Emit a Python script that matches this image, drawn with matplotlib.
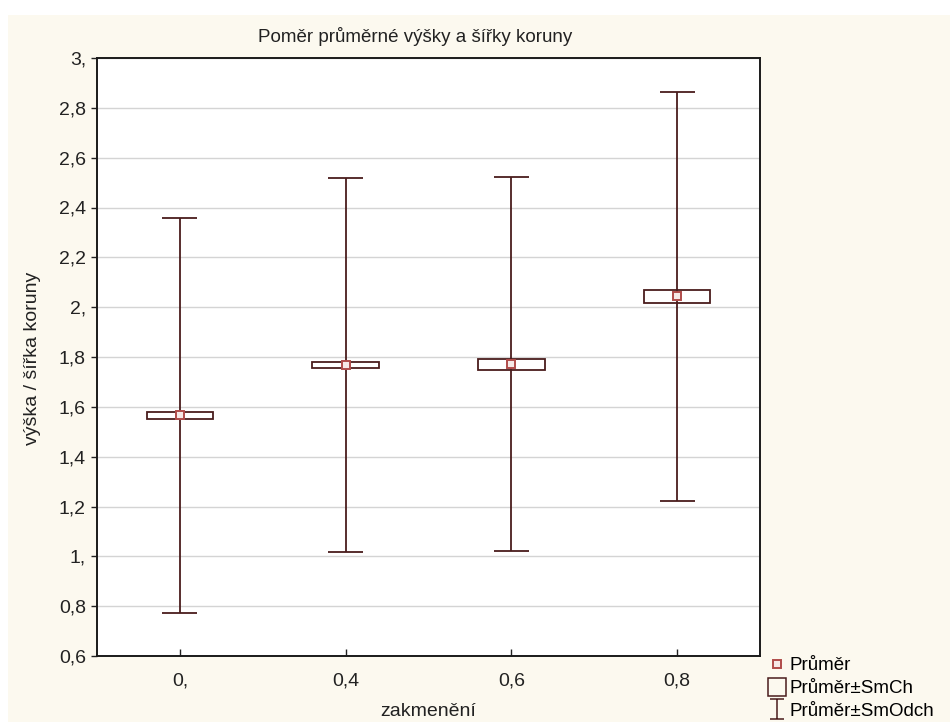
import matplotlib
matplotlib.use("Agg")
import matplotlib.pyplot as plt
from matplotlib.patches import Rectangle
from matplotlib.lines import Line2D
from matplotlib.path import Path

plt.rcParams.update({
    "font.family": ["Liberation Sans", "DejaVu Sans"],
    "font.size": 14,
})

# zakmenění categories with mean, standard error and standard deviation
categories = ["0,", "0,4", "0,6", "0,8"]
means = [1.566, 1.768, 1.771, 2.043]
std_err = [0.014, 0.013, 0.022, 0.026]
std_dev = [0.793, 0.750, 0.750, 0.820]

ytick_values = [0.6, 0.8, 1.0, 1.2, 1.4, 1.6, 1.8, 2.0, 2.2, 2.4, 2.6, 2.8, 3.0]
ytick_labels = ["0,6", "0,8", "1,", "1,2", "1,4", "1,6", "1,8", "2,", "2,2",
                "2,4", "2,6", "2,8", "3,"]

DARK = "#4a1c1c"
MEAN_EDGE = "#b04c4a"
MEAN_FACE = "#f6e9e7"
CREAM = "#fcf9ef"
TEXT = "#222222"

fig = plt.figure(figsize=(9.5, 7.22), dpi=100, facecolor="white")
fig.patches.append(Rectangle((8 / 950, 0), 1, 1 - 15 / 722, transform=fig.transFigure,
                             facecolor=CREAM, edgecolor="none", zorder=-10))

ax = fig.add_axes([97 / 950, 66 / 722, 663 / 950, 598 / 722])
ax.set_facecolor("white")

box_w = 0.40
cap_w = 0.21
for i, (m, se, sd) in enumerate(zip(means, std_err, std_dev)):
    ax.vlines(i, m - sd, m + sd, color=DARK, lw=1.3, zorder=3)
    ax.hlines([m - sd, m + sd], i - cap_w / 2, i + cap_w / 2, color=DARK, lw=1.3, zorder=3)
    ax.add_patch(Rectangle((i - box_w / 2, m - se), box_w, 2 * se, facecolor="none",
                           edgecolor=DARK, lw=1.3, zorder=4))
    ax.plot(i, m, marker="s", ms=6, mfc=MEAN_FACE, mec=MEAN_EDGE, mew=1.4, zorder=5)

ax.set_xlim(-0.5, len(categories) - 0.5)
ax.set_ylim(0.6, 3.0)
ax.set_xticks(range(len(categories)))
ax.set_xticklabels(categories)
ax.set_yticks(ytick_values)
ax.set_yticklabels(ytick_labels)
ax.tick_params(axis="x", direction="in", length=5, width=1, pad=12, colors=TEXT)
ax.tick_params(axis="y", direction="out", length=4, width=1, pad=4, colors=TEXT)
ax.grid(axis="y", color="#d4d4d4", lw=1)
ax.set_axisbelow(True)
for sp in ax.spines.values():
    sp.set_color("#1a1a1a")
    sp.set_linewidth(1.4)

fig.text(415 / 950, 1 - 36 / 722, "Poměr průměrné výšky a šířky koruny",
         ha="center", va="center", fontsize=13.5, color=TEXT)
fig.text(428 / 950, 1 - 712 / 722, "zakmenění", ha="center", va="center",
         fontsize=14, color=TEXT)
fig.text(33 / 950, 1 - 358 / 722, "výška / šířka koruny", ha="center", va="center",
         rotation=90, fontsize=14, color=TEXT)

# legend: mean marker, ±SE box, ±SD whisker
whisker_path = Path([(-0.7, 1), (0.7, 1), (0, 1), (0, -1), (-0.7, -1), (0.7, -1)],
                    [Path.MOVETO, Path.LINETO, Path.MOVETO, Path.LINETO,
                     Path.MOVETO, Path.LINETO])
handles = [
    Line2D([], [], ls="none", marker="s", ms=5.5, mfc=MEAN_FACE, mec=MEAN_EDGE, mew=1.4),
    Line2D([], [], ls="none", marker="s", ms=12.5, mfc="none", mec=DARK, mew=1.1),
    Line2D([], [], ls="none", marker=whisker_path, ms=14, mfc="none", mec=DARK, mew=1.1),
]
labels = ["Průměr", "Průměr±SmCh", "Průměr±SmOdch"]
fig.legend(handles, labels, loc="upper left", bbox_to_anchor=(758 / 950, 1 - 648 / 722),
           frameon=False, handlelength=1.0, handletextpad=0.2, labelspacing=0.3,
           borderpad=0, fontsize=13.5)

fig.savefig("out.png", dpi=100, facecolor=fig.get_facecolor())
